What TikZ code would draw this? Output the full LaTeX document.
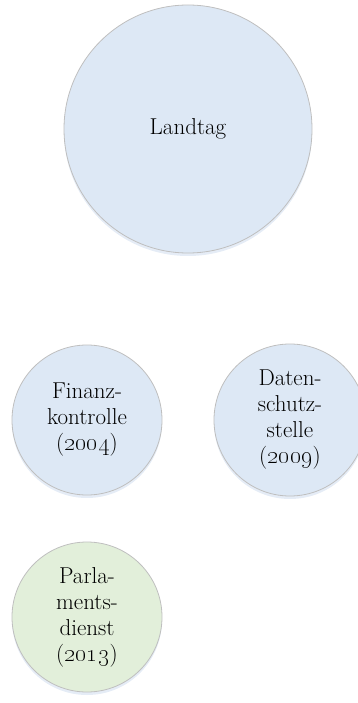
\documentclass[tikz,border=0pt]{standalone}
\usetikzlibrary{shadows}
\definecolor{bluefill}{HTML}{DDE8F5}
\definecolor{greenfill}{HTML}{E2EFDA}
\definecolor{rimgray}{HTML}{BFBFBF}
\definecolor{shadowblue}{HTML}{B4C9E4}
\tikzset{
  org/.style={circle, draw=rimgray, line width=0.8pt, inner sep=0pt, align=center,
    font=\fontsize{23}{26}\selectfont,
    drop shadow={shadow xshift=0pt, shadow yshift=-3pt, opacity=0.35, fill=shadowblue}},
  bluecirc/.style={org, fill=bluefill},
  greencirc/.style={org, fill=greenfill}
}
\begin{document}
\begin{tikzpicture}[x=1pt,y=1pt]
\useasboundingbox (0,0) rectangle (357,-703);
\node[bluecirc, minimum size=248pt] (landtag) at (188,-129) {Landtag};
\node[bluecirc, minimum size=150pt] (finanz) at (87,-420) {Finanz-\\kontrolle\\(\oldstylenums{2004})};
\node[bluecirc, minimum size=152pt] (daten) at (290,-420) {Daten-\\schutz-\\stelle\\(\oldstylenums{2009})};
\node[greencirc, minimum size=150pt] (parl) at (87,-617) {Parla-\\ments-\\dienst\\(\oldstylenums{2013})};
\end{tikzpicture}
\end{document}
